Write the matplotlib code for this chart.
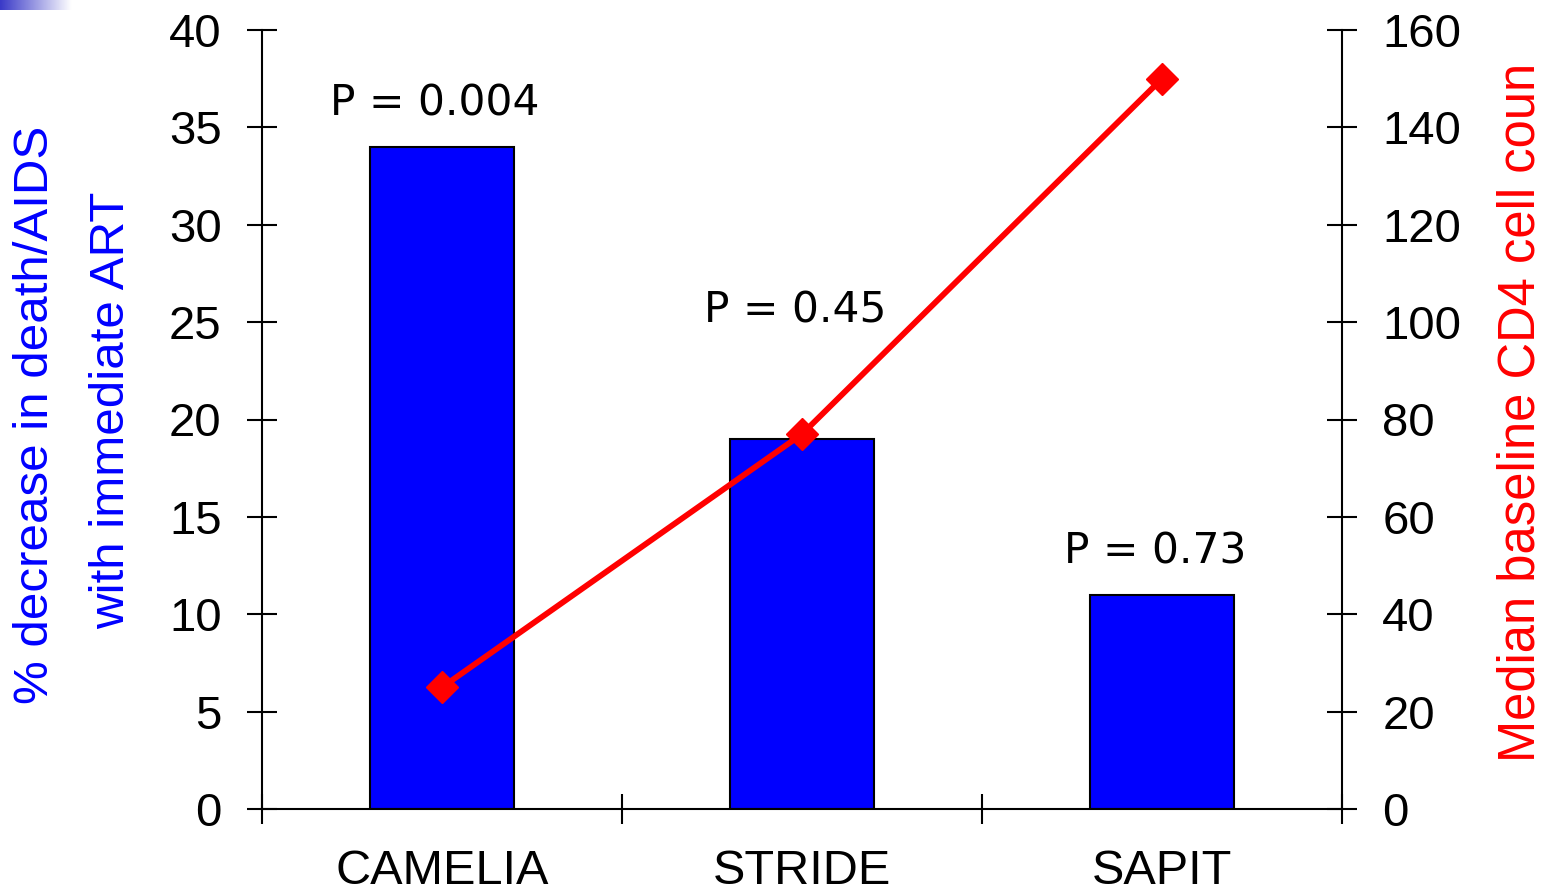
import numpy as np
import matplotlib
matplotlib.use("Agg")
import matplotlib.pyplot as plt
from matplotlib.colors import LinearSegmentedColormap

# data
trials = ["CAMELIA", "STRIDE", "SAPIT"]
pct_decrease = [34, 19, 11]
median_cd4 = [25, 77, 150]
p_labels = ["P = 0.004", "P = 0.45", "P = 0.73"]
p_label_y = [35.6, 25.0, 12.6]

plt.rcParams['font.family'] = ['Liberation Sans', 'DejaVu Sans']

fig = plt.figure(figsize=(15.45, 8.92), dpi=100)
ax = fig.add_axes([262 / 1545, 1 - 809 / 892, 1080 / 1545, 779 / 892])

x = np.arange(len(trials))
ax.bar(x, pct_decrease, width=0.4, color='#0000ff', edgecolor='black',
       linewidth=1.5, zorder=2)

ax.set_xlim(-0.5, 2.5)
ax.set_ylim(0, 40)
ax.set_yticks(np.arange(0, 41, 5))
ax.set_xticks(x)
ax.set_xticklabels(trials)
ax.set_xticks([-0.5, 0.5, 1.5, 2.5], minor=True)

ax.spines['top'].set_visible(False)
ax.spines['right'].set_visible(False)
for s in ['left', 'bottom']:
    ax.spines[s].set_linewidth(1.5)

ax.tick_params(axis='y', which='major', direction='inout', length=22, width=1.5,
               labelsize=34, pad=18)
ax.tick_params(axis='x', which='major', length=0, labelsize=35, pad=29)
ax.tick_params(axis='x', which='minor', direction='inout', length=21, width=1.5)
for lab in ax.get_xticklabels():
    lab.set_fontstretch('expanded')

for xi, lab, ly in zip(x, p_labels, p_label_y):
    ax.text(xi - 0.02, ly, lab, ha='center', va='baseline', fontsize=30.5,
            family='DejaVu Sans', zorder=5)

ax2 = ax.twinx()
ax2.plot(x, median_cd4, color='#ff0000', linewidth=4.2, marker='D',
         markersize=16, zorder=4)
ax2.set_ylim(0, 160)
ax2.set_yticks(np.arange(0, 161, 20))
for s in ['top', 'left', 'bottom']:
    ax2.spines[s].set_visible(False)
ax2.spines['right'].set_linewidth(1.5)
ax2.tick_params(axis='y', direction='inout', length=22, width=1.5,
                labelsize=34, pad=18)

# axis titles
fig.text(36 / 1545, 1 - 415 / 892, "% decrease in death/AIDS", rotation=90,
         ha='center', va='center', fontsize=35.5, color='#0000ff')
fig.text(112 / 1545, 1 - 410 / 892, "with immediate ART", rotation=90,
         ha='center', va='center', fontsize=35.5, color='#0000ff')
fig.text(1521 / 1545, 1 - 412 / 892, "Median baseline CD4 cell coun", rotation=90,
         ha='center', va='center', fontsize=36.5, color='#ff0000')

# small gradient strip in the top-left corner
gax = fig.add_axes([0, 1 - 10 / 892, 72 / 1545, 10 / 892])
cmap = LinearSegmentedColormap.from_list('grad', ['#3a3ac8', '#ffffff'])
gax.imshow(np.linspace(0, 1, 100).reshape(1, -1), aspect='auto', cmap=cmap)
gax.axis('off')

fig.savefig('out.png', dpi=100)
